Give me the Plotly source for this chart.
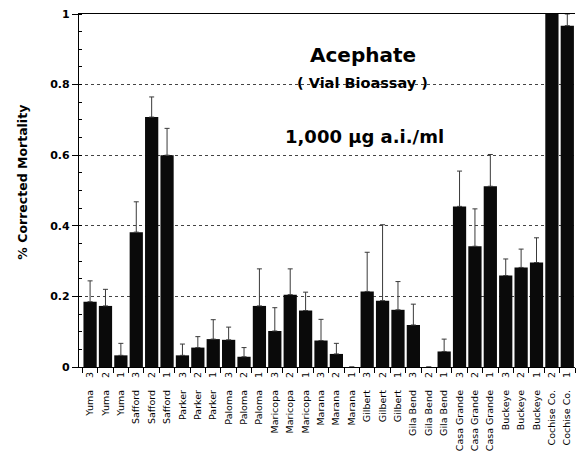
import plotly.graph_objects as go

# ---- data ----
sites = ["Yuma", "Yuma", "Yuma", "Safford", "Safford", "Safford",
         "Parker", "Parker", "Parker", "Paloma", "Paloma", "Paloma",
         "Maricopa", "Maricopa", "Maricopa", "Marana", "Marana", "Marana",
         "Gilbert", "Gilbert", "Gilbert", "Gila Bend", "Gila Bend", "Gila Bend",
         "Casa Grande", "Casa Grande", "Casa Grande", "Buckeye", "Buckeye", "Buckeye",
         "Cochise Co.", "Cochise Co."]
sample_no = ["3", "2", "1", "3", "2", "1", "3", "2", "1", "3", "2", "1",
             "3", "2", "1", "3", "2", "1", "3", "2", "1", "3", "2", "1",
             "3", "2", "1", "3", "2", "1", "2", "1"]
mortality = [0.185, 0.173, 0.033, 0.382, 0.708, 0.600,
             0.033, 0.055, 0.079, 0.077, 0.029, 0.173,
             0.102, 0.205, 0.160, 0.075, 0.037, 0.0,
             0.214, 0.188, 0.162, 0.119, 0.0, 0.044,
             0.455, 0.342, 0.512, 0.259, 0.282, 0.296,
             1.05, 0.967]
error_top = [0.244, 0.220, 0.067, 0.468, 0.765, 0.676,
             0.065, 0.086, 0.134, 0.113, 0.055, 0.278,
             0.168, 0.278, 0.212, 0.135, 0.067, None,
             0.325, 0.403, 0.242, 0.178, None, 0.079,
             0.555, 0.448, 0.602, 0.306, 0.334, 0.366,
             1.05, 1.0]
y_ticks = [0, 0.2, 0.4, 0.6, 0.8, 1]
y_tick_text = ["0", "0.2", "0.4", "0.6", "0.8", "1"]

labels = [f"{s}    {n}" for s, n in zip(sites, sample_no)]
err_plus = [None if t is None else max(t - v, 0) for t, v in zip(error_top, mortality)]
err_minus = [0] * len(mortality)

fig = go.Figure(
    go.Bar(
        x=labels,
        y=mortality,
        width=0.86,
        marker=dict(color="#0a0a0a", line=dict(width=0)),
        error_y=dict(type="data", symmetric=False, array=err_plus,
                     arrayminus=err_minus, color="#3a3a3a",
                     thickness=1, width=2.5),
    )
)

fig.update_layout(
    width=584, height=456,
    margin=dict(l=79, r=9, t=14, b=89),
    paper_bgcolor="white", plot_bgcolor="white",
    showlegend=False,
)

fig.update_xaxes(
    type="category",
    automargin=False,
    range=[-0.72, 31.5],
    tickson="boundaries",
    ticks="outside", ticklen=5, tickcolor="black", tickwidth=1,
    tickangle=-90,
    tickfont=dict(family="DejaVu Sans", size=9.5, color="black"),
    showline=True, linecolor="black", linewidth=1.2, mirror=True,
    showgrid=False,
)

fig.update_yaxes(
    automargin=False,
    range=[0, 1],
    tickmode="array", tickvals=y_ticks, ticktext=y_tick_text,
    ticks="outside", ticklen=6, tickcolor="black", tickwidth=1,
    tickfont=dict(family="DejaVu Sans", size=11, color="black", weight="bold"),
    showline=True, linecolor="black", linewidth=1.2,
    showgrid=True, gridcolor="#444444", gridwidth=1, griddash="dot",
    zeroline=False,
    minor=dict(tickmode="linear", tick0=0, dtick=0.05, ticks="inside",
               ticklen=3, tickcolor="black", showgrid=False),
)

fig.add_annotation(text="% Corrected Mortality", textangle=-90,
                   xref="paper", yref="paper", x=-0.113, y=0.525,
                   xanchor="center", yanchor="middle", showarrow=False,
                   font=dict(family="DejaVu Sans", size=12.5, color="black", weight="bold"))
fig.add_annotation(text="Acephate", xref="paper", yref="paper",
                   x=0.573, y=0.884, xanchor="center", yanchor="middle",
                   showarrow=False,
                   font=dict(family="DejaVu Sans", size=20, color="black", weight="bold"))
fig.add_annotation(text="( Vial Bioassay )", xref="paper", yref="paper",
                   x=0.571, y=0.805, xanchor="center", yanchor="middle",
                   showarrow=False,
                   font=dict(family="DejaVu Sans", size=14.5, color="black", weight="bold"))
fig.add_annotation(text="1,000 µg a.i./ml", xref="paper", yref="paper",
                   x=0.576, y=0.652, xanchor="center", yanchor="middle",
                   showarrow=False,
                   font=dict(family="DejaVu Sans", size=18, color="black", weight="bold"))

fig.write_html(
    "out.html",
    config={"displayModeBar": False},
    post_script="document.body.style.margin='0';document.body.style.overflow='hidden';",
)
